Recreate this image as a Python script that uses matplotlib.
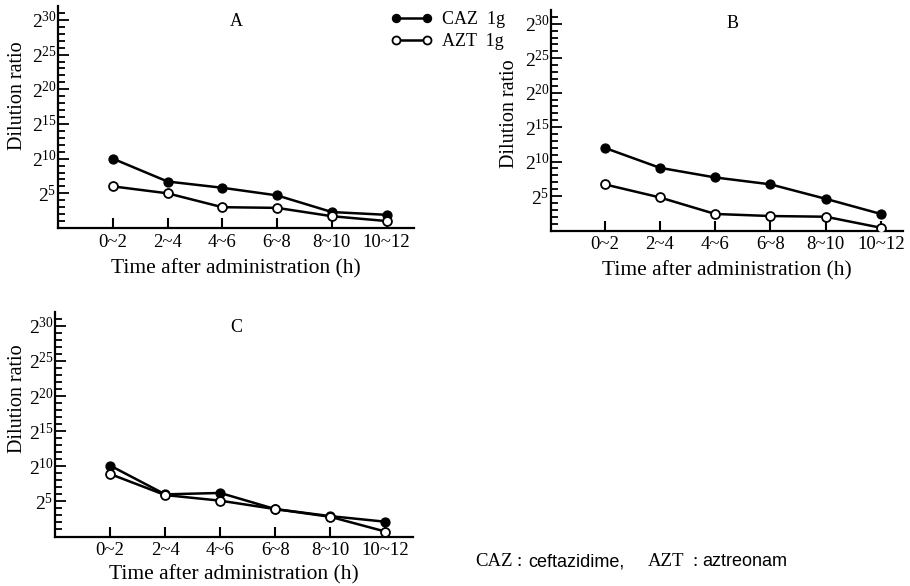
import matplotlib
matplotlib.use("Agg")
import matplotlib.pyplot as plt
from matplotlib.ticker import FixedLocator

plt.rcParams['font.family'] = ['Liberation Serif', 'DejaVu Serif']
plt.rcParams['mathtext.fontset'] = 'custom'
plt.rcParams['mathtext.rm'] = 'Liberation Serif'
plt.rcParams['mathtext.it'] = 'Liberation Serif:italic'
plt.rcParams['mathtext.bf'] = 'Liberation Serif:bold'

# ---- data ----
categories = ["0~2", "2~4", "4~6", "6~8", "8~10", "10~12"]
ytick_exponents = [5, 10, 15, 20, 25, 30]

A_caz = [10.0, 6.7, 5.8, 4.7, 2.3, 1.9]
A_azt = [6.0, 5.0, 3.0, 2.9, 1.7, 1.0]
B_caz = [12.0, 9.1, 7.7, 6.7, 4.6, 2.4]
B_azt = [6.7, 4.8, 2.4, 2.1, 2.0, 0.4]
C_caz = [10.1, 6.0, 6.2, 3.9, 2.9, 2.1]
C_azt = [8.9, 5.9, 5.1, 3.9, 2.8, 0.7]

series_labels = ["CAZ  1g", "AZT  1g"]

W, H = 910, 586
fig = plt.figure(figsize=(W / 100, H / 100), dpi=100)


def make_ax(left, right, bottom, top, xlim, ylim, title, title_xy, ylab_xy,
            xlabpad, caz, azt):
    ax = fig.add_axes([left / W, 1 - bottom / H, (right - left) / W, (bottom - top) / H])
    x = list(range(len(categories)))
    l1, = ax.plot(x, caz, color='black', lw=1.8, marker='o', ms=6.4,
                  mfc='black', mec='black', zorder=3)
    l2, = ax.plot(x, azt, color='black', lw=1.8, marker='o', ms=6.4,
                  mfc='white', mec='black', mew=1.3, zorder=4)
    ax.set_xlim(*xlim)
    ax.set_ylim(*ylim)
    for s in ['top', 'right']:
        ax.spines[s].set_visible(False)
    for s in ['left', 'bottom']:
        ax.spines[s].set_linewidth(1.6)
    ax.set_xticks(x)
    ax.set_xticklabels(categories, fontsize=13.5)
    ax.yaxis.set_major_locator(FixedLocator(ytick_exponents))
    ax.set_yticklabels([f"$2^{{{e}}}$" for e in ytick_exponents], fontsize=14)
    ax.yaxis.set_minor_locator(FixedLocator([v for v in range(1, 32) if v % 5 != 0]))
    ax.tick_params(axis='y', which='major', direction='in', length=8, width=1.3, pad=1)
    ax.tick_params(axis='y', which='minor', direction='in', length=5, width=1.3)
    ax.tick_params(axis='x', which='major', direction='in', length=7, width=1.5, pad=4)
    ax.set_xlabel("Time after administration (h)", fontsize=15.5, labelpad=xlabpad)
    ax.set_ylabel("Dilution ratio", fontsize=14.5)
    ax.yaxis.set_label_coords(*ylab_xy)
    ax.text(title_xy[0] / W, 1 - title_xy[1] / H, title, transform=fig.transFigure,
            ha='center', va='center', fontsize=13)
    ax.patch.set_visible(False)
    return ax, l1, l2


axA, l1, l2 = make_ax(58, 414, 228, 6, (-1.0, 5.5), (0, 32), "A", (236, 22),
                      (-0.087, 0.595), 6, A_caz, A_azt)
axB, _, _ = make_ax(551, 903, 230.5, 10, (-0.97, 5.4), (0, 32), "B", (733, 23),
                    (-0.091, 0.528), 6, B_caz, B_azt)
axC, _, _ = make_ax(55, 413, 536.5, 311.7, (-1.0, 5.5), (0, 32), "C", (236, 327),
                    (-0.078, 0.615), 4, C_caz, C_azt)

leg = fig.legend([l1, l2], series_labels, loc='upper left',
                 bbox_to_anchor=(391 / W, 1 - 11 / H), frameon=False, numpoints=2,
                 handlelength=2.3, handletextpad=0.5, labelspacing=0.3,
                 fontsize=13, markerscale=0.9, borderpad=0, borderaxespad=0)

fy = 1 - 562 / H
fig.text(475 / W, fy, "CAZ", fontsize=13.5, va='center', ha='left')
fig.text(516 / W, fy, ":", fontsize=13.5, va='center', ha='left')
fig.text(528 / W, fy, "ceftazidime,", fontsize=13, va='center', ha='left',
         family='Liberation Sans')
fig.text(648 / W, fy, "AZT", fontsize=13.5, va='center', ha='left')
fig.text(692 / W, fy, ":", fontsize=13.5, va='center', ha='left')
fig.text(702 / W, fy, "aztreonam", fontsize=13, va='center', ha='left',
         family='Liberation Sans')

fig.savefig("out.png", dpi=100, facecolor='white')
